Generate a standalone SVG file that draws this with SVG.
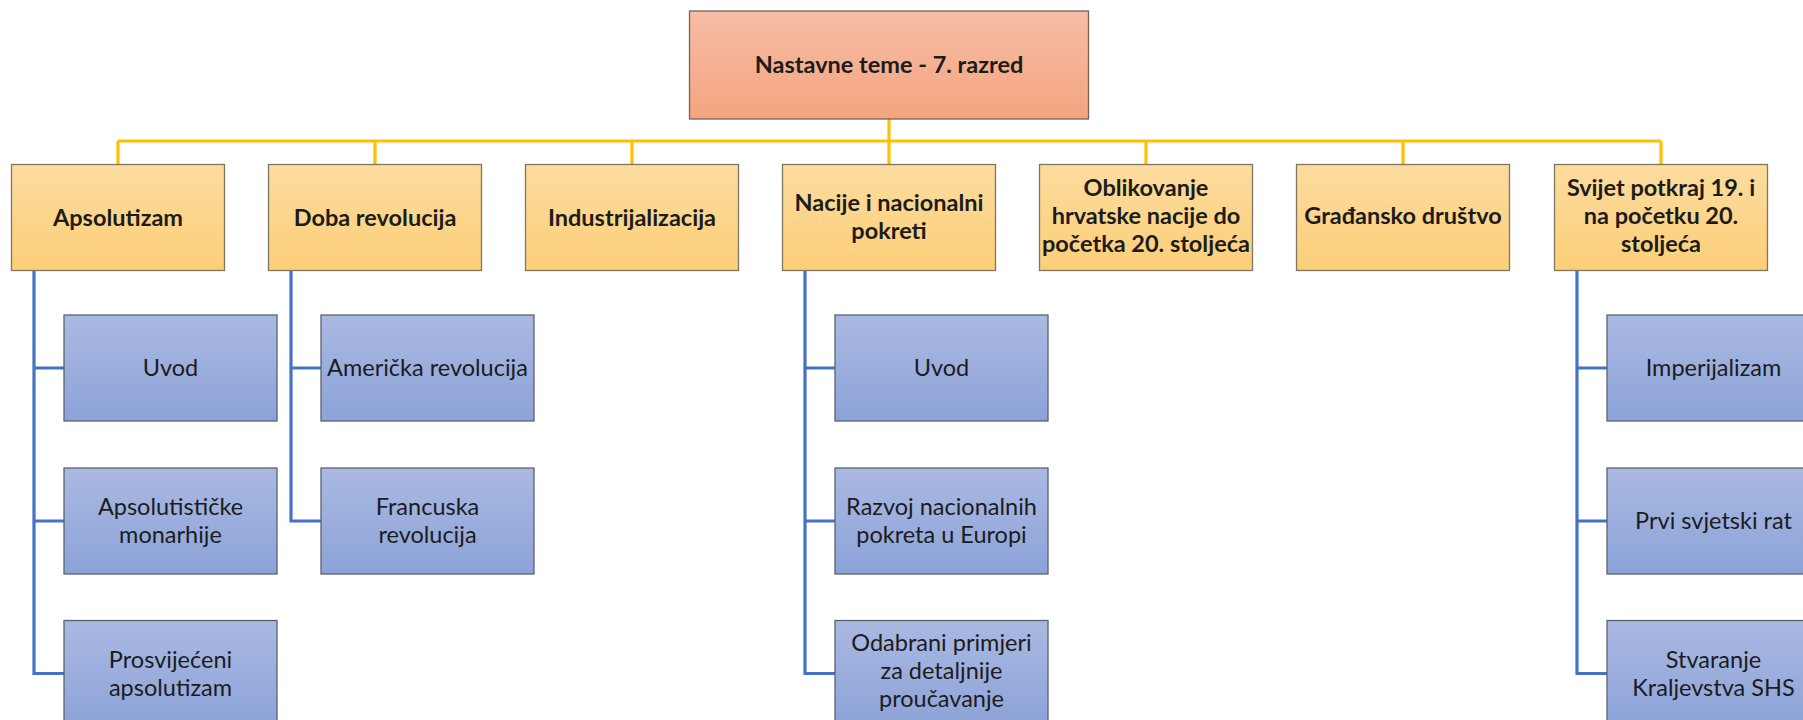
<svg xmlns="http://www.w3.org/2000/svg" width="1803" height="720" viewBox="0 0 1803 720">
<defs>
<linearGradient id="gRoot" x1="0" y1="0" x2="0" y2="1"><stop offset="0" stop-color="#F6BDA5"/><stop offset="1" stop-color="#F4A47F"/></linearGradient>
<linearGradient id="gTop" x1="0" y1="0" x2="0" y2="1"><stop offset="0" stop-color="#FDDC9F"/><stop offset="1" stop-color="#FCCF78"/></linearGradient>
<linearGradient id="gSub" x1="0" y1="0" x2="0" y2="1"><stop offset="0" stop-color="#AAB9E2"/><stop offset="1" stop-color="#8CA3D8"/></linearGradient>
<style>
.root{fill:url(#gRoot);stroke:#7a6058;stroke-width:1.3}
.top{fill:url(#gTop);stroke:#807660;stroke-width:1.3}
.sub{fill:url(#gSub);stroke:#5c6270;stroke-width:1.3}
.y{fill:none;stroke:#FFC000;stroke-width:3.2}
.b{fill:none;stroke:#4472C4;stroke-width:3.2}
text{font-family:Lato,"Liberation Sans",sans-serif;font-size:23.5px;fill:#1c1c1c;text-anchor:middle}
.bold{font-weight:bold}
</style>
</defs>
<rect width="1803" height="720" fill="#ffffff"/>
<g id="connectors">
<path class="y" d="M889 119 V141 M118 141 H1661 M118 141 V164.5 M375 141 V164.5 M632 141 V164.5 M889 141 V164.5 M1146 141 V164.5 M1403 141 V164.5 M1661 141 V164.5"/>
<path class="b" d="M34 270.5 V673.5 H64 M34 368 H64 M34 521 H64"/>
<path class="b" d="M291 270.5 V521 H321 M291 368 H321"/>
<path class="b" d="M805 270.5 V673.5 H835 M805 368 H835 M805 521 H835"/>
<path class="b" d="M1577 270.5 V673.5 H1607 M1577 368 H1607 M1577 521 H1607"/>
</g>
<g id="root"><rect class="root" x="689.5" y="11" width="399" height="108"/><text class="bold" x="889" y="73">Nastavne teme - 7. razred</text></g>
<g id="apsolutizam"><rect class="top" x="11.5" y="164.5" width="213" height="106"/><text class="bold" x="118" y="226">Apsolutizam</text></g>
<g id="doba-revolucija"><rect class="top" x="268.5" y="164.5" width="213" height="106"/><text class="bold" x="375" y="226">Doba revolucija</text></g>
<g id="industrijalizacija"><rect class="top" x="525.5" y="164.5" width="213" height="106"/><text class="bold" x="632" y="226">Industrijalizacija</text></g>
<g id="nacije"><rect class="top" x="782.5" y="164.5" width="213" height="106"/><text class="bold" x="889" y="211">Nacije i nacionalni</text><text class="bold" x="889" y="239">pokreti</text></g>
<g id="oblikovanje"><rect class="top" x="1039.5" y="164.5" width="213" height="106"/><text class="bold" x="1146" y="196">Oblikovanje</text><text class="bold" x="1146" y="224">hrvatske nacije do</text><text class="bold" x="1146" y="252">početka 20. stoljeća</text></g>
<g id="gradjansko"><rect class="top" x="1296.5" y="164.5" width="213" height="106"/><text class="bold" x="1403" y="224">Građansko društvo</text></g>
<g id="svijet"><rect class="top" x="1554.5" y="164.5" width="213" height="106"/><text class="bold" x="1661" y="196">Svijet potkraj 19. i</text><text class="bold" x="1661" y="224">na početku 20.</text><text class="bold" x="1661" y="252">stoljeća</text></g>
<g id="aps-uvod"><rect class="sub" x="64" y="315" width="213" height="106"/><text x="170.5" y="376">Uvod</text></g>
<g id="aps-monarhije"><rect class="sub" x="64" y="468" width="213" height="106"/><text x="170.5" y="515">Apsolutističke</text><text x="170.5" y="543">monarhije</text></g>
<g id="aps-prosvijeceni"><rect class="sub" x="64" y="620.5" width="213" height="106"/><text x="170.5" y="668">Prosvijećeni</text><text x="170.5" y="696">apsolutizam</text></g>
<g id="rev-americka"><rect class="sub" x="321" y="315" width="213" height="106"/><text x="427.5" y="376">Američka revolucija</text></g>
<g id="rev-francuska"><rect class="sub" x="321" y="468" width="213" height="106"/><text x="427.5" y="515">Francuska</text><text x="427.5" y="543">revolucija</text></g>
<g id="nac-uvod"><rect class="sub" x="835" y="315" width="213" height="106"/><text x="941.5" y="376">Uvod</text></g>
<g id="nac-razvoj"><rect class="sub" x="835" y="468" width="213" height="106"/><text x="941.5" y="515">Razvoj nacionalnih</text><text x="941.5" y="543">pokreta u Europi</text></g>
<g id="nac-odabrani"><rect class="sub" x="835" y="620.5" width="213" height="106"/><text x="941.5" y="651">Odabrani primjeri</text><text x="941.5" y="679">za detaljnije</text><text x="941.5" y="707">proučavanje</text></g>
<g id="svi-imperijalizam"><rect class="sub" x="1607" y="315" width="213" height="106"/><text x="1713.5" y="376">Imperijalizam</text></g>
<g id="svi-rat"><rect class="sub" x="1607" y="468" width="213" height="106"/><text x="1713.5" y="529">Prvi svjetski rat</text></g>
<g id="svi-shs"><rect class="sub" x="1607" y="620.5" width="213" height="106"/><text x="1713.5" y="668">Stvaranje</text><text x="1713.5" y="696">Kraljevstva SHS</text></g>
</svg>
